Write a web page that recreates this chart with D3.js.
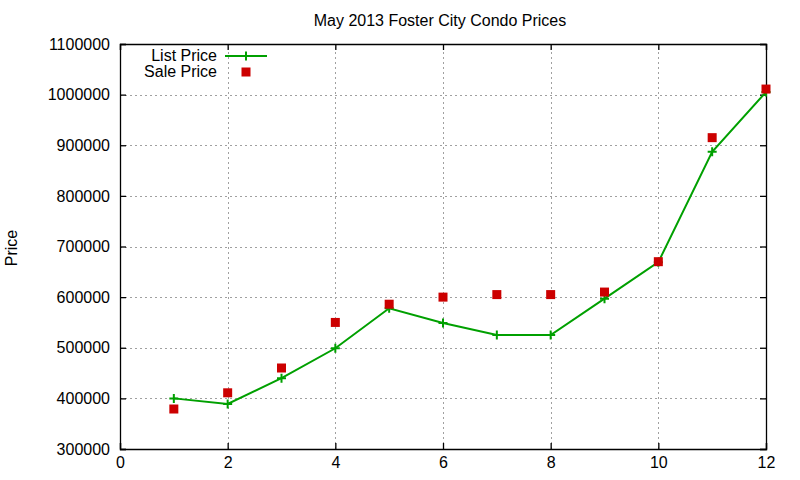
<!DOCTYPE html>
<html>
<head>
<meta charset="utf-8">
<script src="https://cdn.jsdelivr.net/npm/d3@7"></script>
<style>
body { margin: 0; background: #fff; }
svg text { font-family: "Liberation Sans", Arial, sans-serif; fill: #000; }
</style>
</head>
<body>
<div id="chart"></div>
<script>
// data
var months    = [1, 2, 3, 4, 5, 6, 7, 8, 9, 10, 11, 12];
var listPrice = [400000, 389000, 440000, 499000, 578000, 549000, 525000, 525000, 597000, 669000, 887000, 1005000];
var salePrice = [379000, 411000, 460000, 550000, 586000, 600000, 605000, 605000, 610000, 670000, 915000, 1011000];
var xTicks = [0, 2, 4, 6, 8, 10, 12];
var yTicks = [300000, 400000, 500000, 600000, 700000, 800000, 900000, 1000000, 1100000];

var width = 800, height = 480;
var margin = {top: 44, right: 34, bottom: 31, left: 120};
var fs = '16px';

var svg = d3.select('#chart').append('svg')
    .attr('width', width)
    .attr('height', height);

var x = d3.scaleLinear().domain([0, 12]).range([margin.left, width - margin.right]);
var y = d3.scaleLinear().domain([300000, 1100000]).range([height - margin.bottom, margin.top]);

// grid ---------------------------------------------------------------
var grid = svg.append('g').attr('stroke', '#a0a0a0').attr('stroke-dasharray', '2,3').attr('stroke-width', 1);
grid.selectAll('.gx')
    .data(xTicks.slice(1, -1))
    .enter().append('line')
    .attr('x1', function(d){ return Math.round(x(d)) + 0.5; })
    .attr('x2', function(d){ return Math.round(x(d)) + 0.5; })
    .attr('y1', y.range()[0]).attr('y2', y.range()[1]);
grid.selectAll('.gy')
    .data(yTicks.slice(1, -1))
    .enter().append('line')
    .attr('y1', function(d){ return Math.round(y(d)) + 0.5; })
    .attr('y2', function(d){ return Math.round(y(d)) + 0.5; })
    .attr('x1', x.range()[0]).attr('x2', x.range()[1]);

// axes, gnuplot style: ticks inward on all four sides ---------------
var fmt = function(d){ return d3.format('d')(d); };
svg.append('g')
    .attr('transform', 'translate(0,' + y.range()[0] + ')')
    .call(d3.axisBottom(x).tickValues(xTicks).tickSize(-6).tickPadding(8).tickFormat(fmt));
svg.append('g')
    .attr('transform', 'translate(0,' + y.range()[1] + ')')
    .call(d3.axisTop(x).tickValues(xTicks).tickSize(-6).tickFormat(''));
svg.append('g')
    .attr('transform', 'translate(' + x.range()[0] + ',0)')
    .call(d3.axisLeft(y).tickValues(yTicks).tickSize(-6).tickPadding(10).tickFormat(fmt));
svg.append('g')
    .attr('transform', 'translate(' + x.range()[1] + ',0)')
    .call(d3.axisRight(y).tickValues(yTicks).tickSize(-6).tickFormat(''));

svg.selectAll('.domain, .tick line').attr('stroke', '#000').attr('stroke-width', 1.3);
svg.selectAll('.tick text')
    .style('font-family', '"Liberation Sans", Arial, sans-serif')
    .style('font-size', fs)
    .attr('fill', '#000');

// titles ---------------------------------------------------------------
svg.append('text')
    .attr('x', 440).attr('y', 26)
    .attr('text-anchor', 'middle')
    .style('font-size', fs)
    .text('May 2013 Foster City Condo Prices');
svg.append('text')
    .attr('transform', 'translate(17,' + 248 + ') rotate(-90)')
    .attr('text-anchor', 'middle')
    .style('font-size', fs)
    .text('Price');

// series ---------------------------------------------------------------
var listData = months.map(function(m, i){ return {m: m, v: listPrice[i]}; });
var saleData = months.map(function(m, i){ return {m: m, v: salePrice[i]}; });
var green = '#00a000', red = '#cc0000';

var line = d3.line()
    .x(function(d){ return x(d.m); })
    .y(function(d){ return y(d.v); });

svg.append('path')
    .datum(listData)
    .attr('fill', 'none')
    .attr('stroke', green)
    .attr('stroke-width', 2)
    .attr('d', line);

function plusPath(s){ return 'M' + (-s) + ',0H' + s + 'M0,' + (-s) + 'V' + s; }

svg.selectAll('.lp')
    .data(listData)
    .enter().append('path')
    .attr('transform', function(d){ return 'translate(' + x(d.m) + ',' + y(d.v) + ')'; })
    .attr('d', plusPath(4.5))
    .attr('stroke', green)
    .attr('stroke-width', 2);

svg.selectAll('.sp')
    .data(saleData)
    .enter().append('rect')
    .attr('x', function(d){ return x(d.m) - 4.5; })
    .attr('y', function(d){ return y(d.v) - 4.5; })
    .attr('width', 9).attr('height', 9)
    .attr('fill', red);

// legend ---------------------------------------------------------------
var legend = svg.append('g');
legend.append('text').attr('x', 217).attr('y', 61).attr('text-anchor', 'end').style('font-size', fs).text('List Price');
legend.append('text').attr('x', 217).attr('y', 77).attr('text-anchor', 'end').style('font-size', fs).text('Sale Price');
legend.append('line').attr('x1', 225).attr('x2', 267).attr('y1', 56).attr('y2', 56)
    .attr('stroke', green).attr('stroke-width', 2);
legend.append('path').attr('transform', 'translate(246,56)').attr('d', plusPath(4.5))
    .attr('stroke', green).attr('stroke-width', 2);
legend.append('rect').attr('x', 241.5).attr('y', 67.5).attr('width', 9).attr('height', 9).attr('fill', red);
</script>
</body>
</html>
